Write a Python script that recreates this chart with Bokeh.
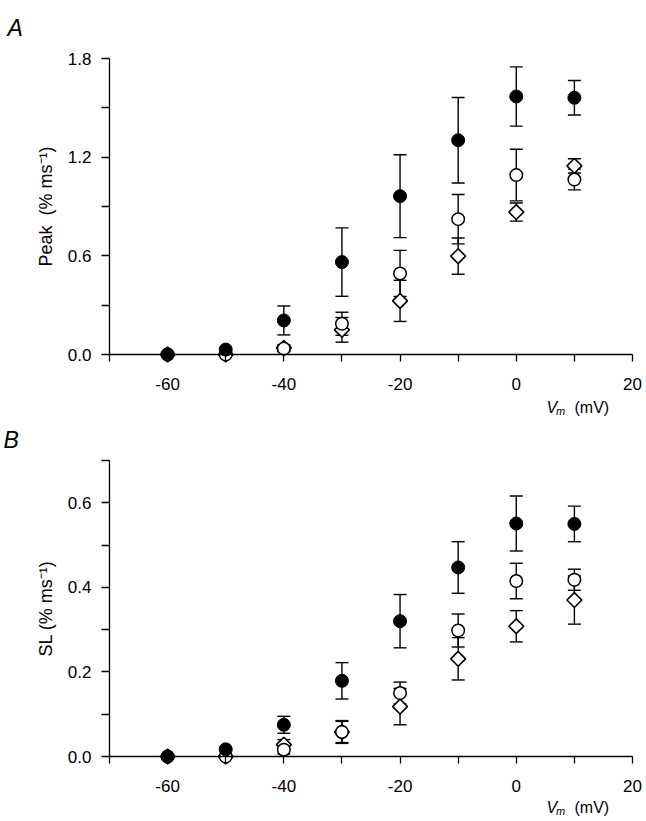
import math
from bokeh.plotting import figure
from bokeh.models import (Range1d, FixedTicker, PrintfTickFormatter, Whisker,
                          TeeHead, ColumnDataSource, Label)
from bokeh.layouts import column
from bokeh.embed import file_html
from bokeh.resources import INLINE

# ---------------- data ----------------
vm = [-60, -50, -40, -30, -20, -10, 0, 10]

# Panel A : Peak (% ms-1)
peak_filled = [0.0, 0.03, 0.207, 0.562, 0.963, 1.303, 1.569, 1.561]
peak_filled_err = [0.0, 0.0, 0.088, 0.208, 0.252, 0.26, 0.18, 0.105]
peak_open = [0.0, 0.0, 0.036, 0.187, 0.493, 0.823, 1.091, 1.064]
peak_open_err = [0.0, 0.0, 0.02, 0.07, 0.14, 0.15, 0.157, 0.063]
peak_diam = [0.0, 0.0, 0.04, 0.15, 0.326, 0.598, 0.866, 1.147]
peak_diam_err = [0.0, 0.0, 0.02, 0.075, 0.125, 0.11, 0.055, 0.043]

# Panel B : SL (% ms-1)
sl_filled = [0.0, 0.017, 0.075, 0.179, 0.32, 0.447, 0.551, 0.55]
sl_filled_err = [0.0, 0.0, 0.02, 0.043, 0.063, 0.061, 0.065, 0.042]
sl_open = [0.0, 0.0, 0.016, 0.058, 0.15, 0.298, 0.415, 0.418]
sl_open_err = [0.0, 0.0, 0.01, 0.027, 0.026, 0.039, 0.042, 0.025]
sl_diam = [0.0, 0.0, 0.028, 0.058, 0.118, 0.231, 0.308, 0.37]
sl_diam_err = [0.0, 0.0, 0.012, 0.025, 0.043, 0.05, 0.037, 0.057]

x_major = [-60, -40, -20, 0, 20]
x_minor = [-70, -50, -30, -10, 10]
a_major = [0.0, 0.6, 1.2, 1.8]
a_minor = [0.3, 0.9, 1.5]
b_major = [0.0, 0.2, 0.4, 0.6]
b_minor = [0.1, 0.3, 0.5, 0.7]

FONT = "Liberation Sans"
W = 646
XMIN, XMAX = -70, 20
AX_L, AX_R = 109, 632          # pixel columns of x = -70 and x = 20
AX_H = 296                     # pixel height of the y axis
PPX = (XMAX - XMIN) / (AX_R - AX_L)


def err_source(xs, ys, es):
    keep = [i for i in range(len(xs)) if es[i] > 0]
    return ColumnDataSource(dict(
        x=[xs[i] for i in keep],
        upper=[ys[i] + es[i] for i in keep],
        lower=[ys[i] - es[i] for i in keep]))


def panel(letter, ylabel, ymax, ymaj, ymin, series, height, top_px,
          letter_px, letter_base, vm_drop):
    ppy = ymax / AX_H
    bottom_px = height - top_px - AX_H
    p = figure(width=W, height=height,
               x_range=Range1d(XMIN - AX_L * PPX, XMAX + (W - AX_R) * PPX),
               y_range=Range1d(-bottom_px * ppy, ymax + top_px * ppy),
               output_backend="svg", toolbar_location=None,
               min_border_left=0, min_border_right=0,
               min_border_top=0, min_border_bottom=0)
    p.outline_line_color = None
    p.grid.visible = False
    p.background_fill_color = "white"
    p.border_fill_color = "white"

    for ax in (p.xaxis[0], p.yaxis[0]):
        ax.axis_line_color = "black"
        ax.axis_line_width = 1.3
        ax.major_tick_line_color = "black"
        ax.minor_tick_line_color = "black"
        ax.major_tick_line_width = 1.3
        ax.minor_tick_line_width = 1.3
        ax.major_tick_in = 0
        ax.minor_tick_in = 0
        ax.major_label_text_font = FONT
        ax.major_label_text_font_size = "17px"
        ax.major_label_text_color = "black"

    xa = p.xaxis[0]
    xa.fixed_location = 0
    xa.bounds = (XMIN, XMAX)
    xa.ticker = FixedTicker(ticks=x_major, minor_ticks=x_minor)
    xa.major_label_overrides = {v: str(v) for v in x_major}
    xa.major_tick_out = 7
    xa.minor_tick_out = 7
    xa.major_label_standoff = 16

    ya = p.yaxis[0]
    ya.fixed_location = XMIN
    ya.bounds = (0, ymax)
    ya.ticker = FixedTicker(ticks=ymaj, minor_ticks=ymin)
    ya.formatter = PrintfTickFormatter(format="%.1f")
    ya.major_tick_out = 8
    ya.minor_tick_out = 8
    ya.major_label_standoff = 10
    ya.axis_label = ylabel
    ya.axis_label_text_font = FONT
    ya.axis_label_text_font_size = "18px"
    ya.axis_label_text_font_style = "normal"
    ya.axis_label_text_color = "black"
    ya.axis_label_standoff = 9

    # error bars first (underneath markers)
    for ys, es, _ in series:
        w = Whisker(base="x", upper="upper", lower="lower",
                    source=err_source(vm, ys, es), level="underlay",
                    line_color="black", line_width=1.4,
                    upper_head=TeeHead(size=13, line_color="black", line_width=1.4),
                    lower_head=TeeHead(size=13, line_color="black", line_width=1.4))
        p.add_layout(w)

    for ys, es, kind in series:
        if kind == "diamond":
            p.scatter(vm, ys, marker="square", angle=math.pi / 4, size=10.5,
                      fill_color="white", line_color="black", line_width=1.6)
        elif kind == "open":
            p.scatter(vm, ys, marker="circle", size=12.5, fill_color="white",
                      line_color="black", line_width=1.5)
        else:
            p.scatter(vm, ys, marker="circle", size=13, fill_color="black",
                      line_color="black", line_width=1)

    common = dict(text_font=FONT, text_color="black", text_baseline="alphabetic",
                  text_align="left")

    # panel letter
    p.add_layout(Label(x=XMIN - (AX_L - letter_px) * PPX,
                       y=ymax + (top_px - letter_base) * ppy,
                       text=letter, text_font_style="italic",
                       text_font_size="23px", **common))

    # x axis title: V_m  (mV)
    vx = XMIN + (546 - AX_L) * PPX
    vy = -vm_drop * ppy
    p.add_layout(Label(x=vx, y=vy, text="V", text_font_style="italic",
                       text_font_size="16px", **common))
    p.add_layout(Label(x=vx + 9.5 * PPX, y=vy - 3 * ppy, text="m",
                       text_font_style="italic", text_font_size="11px", **common))
    p.add_layout(Label(x=vx + 28 * PPX, y=vy, text="(mV)",
                       text_font_size="16px", **common))
    return p


pA = panel("A", "Peak\u00a0\u00a0(% ms\u207b\u00b9)", 1.8, a_major, a_minor,
           [(peak_diam, peak_diam_err, "diamond"),
            (peak_open, peak_open_err, "open"),
            (peak_filled, peak_filled_err, "filled")],
           height=420, top_px=58, letter_px=7, letter_base=27, vm_drop=53)
pB = panel("B", "SL (% ms\u207b\u00b9)", 0.7, b_major, b_minor,
           [(sl_diam, sl_diam_err, "diamond"),
            (sl_open, sl_open_err, "open"),
            (sl_filled, sl_filled_err, "filled")],
           height=400, top_px=40, letter_px=3, letter_base=19, vm_drop=51)

layout = column(pA, pB, spacing=0)
open("out.html", "w").write(file_html(layout, INLINE))
